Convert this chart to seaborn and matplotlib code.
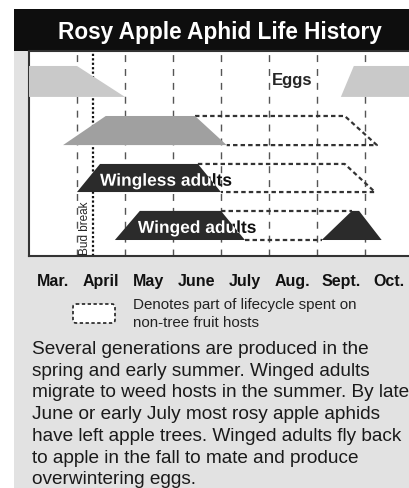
import numpy as np
import pandas as pd
import seaborn as sns
import matplotlib.pyplot as plt
from matplotlib.patches import Rectangle, FancyBboxPatch, PathPatch
from matplotlib.textpath import TextPath
from matplotlib.font_manager import FontProperties
from matplotlib.transforms import Affine2D

months = ["Mar.", "April", "May", "June", "July", "Aug.", "Sept.", "Oct."]
bud_break = 1.33  # months after Mar. 1

# shapes on apple: top start, top end, bottom start, bottom end (months after Mar. 1)
eggs_spring = [0.0, 1.0, 0.0, 2.0]
eggs_fall = [6.77, 8.0, 6.5, 8.0]
generations = [1.6, 3.46, 0.71, 4.12]
wingless = [1.48, 3.52, 1.0, 4.0]
winged_spring = [2.31, 4.0, 1.79, 4.5]
winged_fall = [6.73, 6.88, 6.1, 7.35]

# parts spent on non-tree hosts (dashed)
generations_off = [3.46, 6.58, 7.25, 4.12]  # top start, top end, bottom end, bottom start
wingless_off = [3.52, 6.58, 7.21, 4.0]
winged_off_top = [4.0, 6.73]
winged_off_bottom = [4.5, 6.1]

paragraph = [
    "Several generations are produced in the",
    "spring and early summer. Winged adults",
    "migrate to weed hosts in the summer. By late",
    "June or early July most rosy apple aphids",
    "have left apple trees. Winged adults fly back",
    "to apple in the fall to mate and produce",
    "overwintering eggs.",
]

# row levels (top, bottom)
rows = {"eggs": (9.27, 7.76), "gen": (6.83, 5.41), "wingless": (4.49, 3.12), "winged": (2.2, 0.78)}

sns.set_theme(style="white")
plt.rcParams['font.family'] = ['Liberation Sans', 'DejaVu Sans']

fig = plt.figure(figsize=(4.09, 4.89), dpi=100)

# background panel in pixel coordinates
bg = fig.add_axes([0, 0, 1, 1], zorder=0)
bg.add_patch(Rectangle((14, 10), 395, 479, color="#e2e2e2", lw=0))
bg.add_patch(Rectangle((14, 10), 395, 42, color="#0e0e0e", lw=0))
grad = np.linspace(0.2, 0.86, 100).reshape(-1, 1)
bg.imshow(grad, cmap="gray", vmin=0, vmax=1, extent=(14, 29, 257, 52), aspect="auto")
bg.set_xlim(0, 409)
bg.set_ylim(489, 0)
bg.axis("off")
bg.text(220, 32, "Rosy Apple Aphid Life History", color="white", fontsize=16.3,
        fontweight="bold", ha="center", va="center")
bg.add_patch(FancyBboxPatch((74, 306), 40, 17, boxstyle="round,pad=1,rounding_size=3",
                            fc="white", ec="#222222", lw=1.2, ls=(0, (2, 1.5))))
bg.text(133, 305, "Denotes part of lifecycle spent on", fontsize=10.9, va="center", color="#222222")
bg.text(133, 323, "non-tree fruit hosts", fontsize=10.9, va="center", color="#222222")
bg.text(32, 341, "\n".join(paragraph), fontsize=13.7, va="top", ha="left",
        linespacing=1.365, color="#1a1a1a")

# main chart
ax = fig.add_axes([29 / 409, (489 - 257) / 489, 380 / 409, 205 / 489], zorder=1)
ax.set_facecolor("white")
ax.set_xlim(0, 7.92)
ax.set_ylim(0, 10)

for m in range(1, len(months)):
    ax.axvline(m, color="#555555", lw=1, ls=(0, (5, 5)), zorder=1)
ax.axvline(bud_break, color="#111111", lw=1.6, ls=(0, (1, 1)), zorder=1)


def trapezoid(shape, row, color):
    top, bot = rows[row]
    xs = [shape[2], shape[0], shape[1], shape[3]]
    ys = [bot, top, top, bot]
    return ax.fill(xs, ys, color=color, lw=0, zorder=3)[0]


trapezoid(eggs_spring, "eggs", "#c9c9c9")
trapezoid(eggs_fall, "eggs", "#c9c9c9")
trapezoid(generations, "gen", "#a0a0a0")
p_wingless = trapezoid(wingless, "wingless", "#2b2b2b")
p_winged = trapezoid(winged_spring, "winged", "#2b2b2b")
trapezoid(winged_fall, "winged", "#2b2b2b")

# dashed outlines
paths = []
for name, off, row in [("gen", generations_off, "gen"), ("wingless", wingless_off, "wingless")]:
    top, bot = rows[row]
    for x, y in zip(off, [top, top, bot, bot]):
        paths.append({"path": name, "x": x, "y": y})
for name, xs, level in [("wt", winged_off_top, 0), ("wb", winged_off_bottom, 1)]:
    for x in xs:
        paths.append({"path": name, "x": x, "y": rows["winged"][level]})
dash_df = pd.DataFrame(paths)
sns.lineplot(data=dash_df, x="x", y="y", units="path", estimator=None, sort=False,
             color="#333333", lw=1.6, ls=(0, (2, 1.4)), ax=ax, zorder=2)

# labels: white inside the shape, black where they run past it
ax.text(5.06, 8.6, "Eggs", fontsize=12, fontweight="bold", va="center", zorder=5)
bold = FontProperties(family="Liberation Sans", weight="bold")
size = 12.5
cap = TextPath((0, 0), "W", size=size, prop=bold).get_extents().height
for label, x, y, patch in [("Wingless adults", 1.48, 3.72, p_wingless),
                           ("Winged adults", 2.27, 1.42, p_winged)]:
    tp = TextPath((0, -cap / 2), label, size=size, prop=bold)
    ox, oy = ax.transData.transform((x, y))
    tr = Affine2D().scale(fig.dpi / 72).translate(ox, oy)
    ax.add_patch(PathPatch(tp, transform=tr, fc="#111111", lw=0, zorder=4))
    white = PathPatch(tp, transform=tr, fc="white", lw=0, zorder=5)
    ax.add_patch(white)
    white.set_clip_path(patch)
ax.text(1.17, 1.4, "Bud break", fontsize=8.5, rotation=90, ha="center", va="center", zorder=5)

ax.set_xticks(np.arange(len(months)) + 0.5)
ax.set_xticklabels(months, fontweight="bold", fontsize=11.5, color="#111111")
ax.tick_params(axis="x", length=0, pad=12)
ax.set_yticks([])
ax.set_xlabel("")
ax.set_ylabel("")
for side in ["left", "bottom", "top"]:
    ax.spines[side].set_color("#333333")
    ax.spines[side].set_linewidth(1.5)
ax.spines["right"].set_visible(False)

fig.savefig("out.png", dpi=100)
